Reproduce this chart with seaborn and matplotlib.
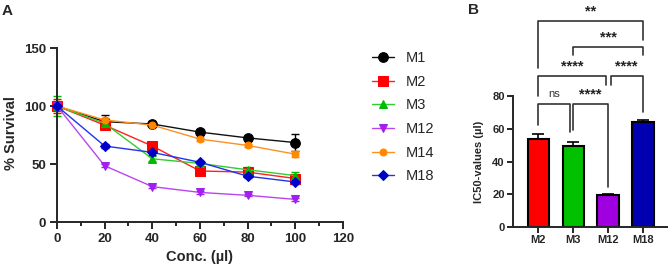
import numpy as np
import pandas as pd
import seaborn as sns
import matplotlib.pyplot as plt

# ---- panel A data: % survival vs concentration ----
conc = [0, 20, 40, 60, 80, 100]
series_names = ["M1", "M2", "M3", "M12", "M14", "M18"]
m1 = [100, 86.5, 84.5, 77.5, 72.5, 68.5]
m2 = [100, 83.5, 65.5, 44, 43, 37.5]
m3 = [100, 85, 54.5, 50.5, 45, 40]
m12 = [100, 48.5, 30.5, 25.5, 23, 19.5]
m14 = [100, 88, 83.5, 71.5, 66, 58.5]
m18 = [100, 65.5, 60, 51.5, 39.5, 34.5]
m1_err = [2, 5.5, 2, 1.5, 1.5, 7]
m2_err = [6, 2, 3, 2, 2, 3]
m3_err = [9, 1.5, 2, 2, 2, 3.5]
m12_err = [3, 1.5, 1.5, 1, 1, 1.5]
m14_err = [4, 2, 2, 1.5, 1.5, 2.5]
m18_err = [2, 2, 2, 1.5, 1.5, 1.5]

# ---- panel B data: IC50 values ----
groups = ["M2", "M3", "M12", "M18"]
ic50 = [54, 49.5, 19.5, 64]
ic50_err = [3, 2.5, 0.6, 1.5]

# significance brackets: (left, right, level, left leg end, right leg end, label)
brackets = [
    (0, 0.9, 75, 62, 58, "ns"),
    (1.0, 2.0, 75, 59, 24.5, "****"),
    (0, 1.95, 92, 80, 87, "****"),
    (2.07, 3, 92, 87, 70, "****"),
    (1.0, 3, 110, 105, 105, "***"),
    (0, 3, 126, 97, 114, "**"),
]

line_colors = ["#111111", "#ff2020", "#33cc33", "#bb44ee", "#ff9020", "#2233ee"]
marker_colors = ["#000000", "#ff0000", "#00bb00", "#a020f0", "#ff8800", "#0000cc"]
markers = ["o", "s", "^", "v", "o", "D"]
msizes = [7, 6.5, 6, 6, 5, 5.5]
bar_colors = ["#ff0000", "#00c000", "#a000e0", "#0000b0"]

sns.set_style("ticks")
plt.rcParams["font.family"] = ["Liberation Sans", "DejaVu Sans"]
plt.rcParams["axes.linewidth"] = 1.4

fig = plt.figure(figsize=(6.69, 2.69), dpi=100)
axa = fig.add_axes([0.0852, 0.1747, 0.4275, 0.6468])
axb = fig.add_axes([0.7668, 0.1561, 0.2302, 0.487])

all_vals = [m1, m2, m3, m12, m14, m18]
all_errs = [m1_err, m2_err, m3_err, m12_err, m14_err, m18_err]
for i, name in enumerate(series_names):
    axa.errorbar(conc, all_vals[i], yerr=all_errs[i], fmt="none",
                 ecolor=marker_colors[i], elinewidth=1, capsize=3,
                 capthick=1, zorder=2, clip_on=False)
    sns.lineplot(x=conc, y=all_vals[i], ax=axa, color=line_colors[i],
                 marker=markers[i], markersize=msizes[i],
                 markerfacecolor=marker_colors[i],
                 markeredgecolor=marker_colors[i], linewidth=1,
                 label=name, zorder=3, clip_on=False)

axa.set_xlim(0, 120)
axa.set_ylim(0, 150)
axa.set_xticks([0, 20, 40, 60, 80, 100, 120])
axa.set_xticks([10, 30, 50, 70, 90, 110], minor=True)
axa.set_yticks([0, 50, 100, 150])
sns.despine(ax=axa)
axa.tick_params(axis="both", which="major", length=5, width=1.4,
                labelsize=9.5, pad=3)
axa.tick_params(axis="x", which="minor", length=3, width=1.4)
for lab in axa.get_xticklabels() + axa.get_yticklabels():
    lab.set_fontweight("bold")
axa.set_xlabel("Conc. (µl)", fontsize=10.5, fontweight="bold")
axa.set_ylabel("% Survival", fontsize=10.5, fontweight="bold")
axa.xaxis.set_label_coords(0.5, -0.16)
axa.yaxis.set_label_coords(-0.135, 0.51)

handles, labels = axa.get_legend_handles_labels()
axa.legend(handles, labels, loc="upper left", bbox_to_anchor=(0.556, 0.81),
           bbox_transform=fig.transFigure, frameon=False, fontsize=10.5,
           handlelength=1.5, handletextpad=0.8, labelspacing=0.66,
           borderpad=0, borderaxespad=0)

# ---- panel B ----
sns.barplot(x=groups, y=ic50, hue=groups, palette=bar_colors, legend=False,
            saturation=1, edgecolor="black", linewidth=1.5, width=0.61,
            ax=axb, zorder=2)
axb.errorbar(range(len(groups)), ic50, yerr=[[0] * len(groups), ic50_err],
             fmt="none", ecolor="black", elinewidth=1.2, capsize=4,
             capthick=1.2, zorder=3)
axb.set_xlim(-0.73, 3.69)
axb.set_ylim(0, 80)
axb.set_yticks([0, 20, 40, 60, 80])
sns.despine(ax=axb)
axb.tick_params(axis="both", length=4, width=1.4, labelsize=8, pad=2)
for lab in axb.get_xticklabels() + axb.get_yticklabels():
    lab.set_fontweight("bold")
axb.set_ylabel("IC50-values (µl)", fontsize=8, fontweight="bold")
axb.yaxis.set_label_coords(-0.19, 0.5)

for x1, x2, lev, l1, l2, txt in brackets:
    axb.plot([x1, x1, x2, x2], [l1, lev, lev, l2], color="#333333",
             linewidth=1.2, clip_on=False)
    if txt == "ns":
        axb.text((x1 + x2) / 2, lev + 3, txt, ha="center", va="bottom",
                 fontsize=8, color="#333333", clip_on=False)
    else:
        axb.text((x1 + x2) / 2, lev + 1.5, txt, ha="center", va="bottom",
                 fontsize=10.5, fontweight="bold", color="#222222",
                 clip_on=False)

fig.text(0.003, 0.985, "A", fontsize=11, fontweight="bold", va="top")
fig.text(0.700, 0.99, "B", fontsize=11, fontweight="bold", va="top")

fig.savefig("out.png", dpi=100)
